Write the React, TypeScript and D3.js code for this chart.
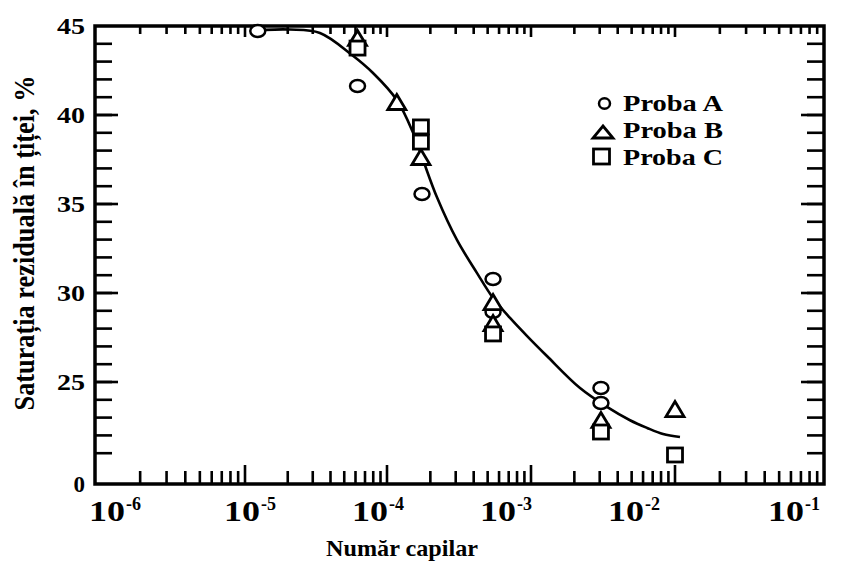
import React from 'react';
import * as d3 from 'd3';

// capillary number decades (bottom axis)
const decades = [1e-6, 1e-5, 1e-4, 1e-3, 1e-2, 1e-1];
const decadeExp = ['-6', '-5', '-4', '-3', '-2', '-1'];
const yMajor = [25, 30, 35, 40, 45];
const yMinor = d3.range(21, 45);
const yLabels = ['25', '30', '35', '40', '45'];

// samples: [capillary number, residual oil saturation %]
const probaA = [
  [1.23e-5, 44.72], [6.2e-5, 41.63], [1.75e-4, 35.56], [5.45e-4, 30.79],
  [5.45e-4, 28.93], [3.06e-3, 24.66], [3.06e-3, 23.82],
];
const probaB = [
  [6.2e-5, 44.33], [1.17e-4, 40.73], [1.72e-4, 37.64], [5.45e-4, 29.49],
  [5.45e-4, 28.31], [3.06e-3, 22.87], [1e-2, 23.48],
];
const probaC = [
  [6.2e-5, 43.76], [1.72e-4, 39.33], [1.72e-4, 38.48], [5.45e-4, 27.7],
  [3.06e-3, 22.19], [1e-2, 20.9],
];
// fitted trend line
const trend = [
  [1.38e-5, 44.78], [2.07e-5, 44.8], [3.37e-5, 44.61], [5.67e-5, 43.37],
  [7.97e-5, 42.36], [1.17e-4, 40.84], [1.52e-4, 38.99], [1.78e-4, 37.47],
  [2.22e-4, 35.39], [3.06e-4, 32.98], [4.22e-4, 31.12], [5.45e-4, 29.72],
  [7.15e-4, 28.6], [9.4e-4, 27.58], [1.29e-3, 26.46], [2.19e-3, 24.66],
  [3.37e-3, 23.6], [4.87e-3, 22.85], [6.4e-3, 22.42], [8.26e-3, 22.08],
  [1.08e-2, 21.91],
];
const legendNames = ['Proba A', 'Proba B', 'Proba C'];

const W = 860;
const H = 565;
const left = 95, right = 824, top = 26, bottom = 484;
const FONT = '"Liberation Serif", "Times New Roman", serif';

// the scanned axis is not perfectly even, so the decade ticks are pinned one by one
const x = d3.scaleLog().domain(decades).range([95, 245, 387, 531, 675, 824]);
// tick labels in the scan sit a bit left of their ticks
const xLab = d3.scaleLog().domain(decades).range([113, 248, 376, 504, 632, 792]);
const y = d3.scaleLinear().domain([19.27, 45]).range([bottom, top]);

const minorX: number[] = [];
decades.slice(0, -1).forEach(d => {
  for (let k = 2; k <= 9; k++) minorX.push(d * k);
});

const Circle = ({ cx, cy, rx = 7.5, ry = 6 }) => (
  <ellipse cx={cx} cy={cy} rx={rx} ry={ry} fill="white" stroke="black" strokeWidth={2.5} />
);
const Tri = ({ cx, cy, w = 18, h = 15 }) => (
  <path
    d={`M${cx},${cy - h / 2}L${cx + w / 2},${cy + h / 2}L${cx - w / 2},${cy + h / 2}Z`}
    fill="white" stroke="black" strokeWidth={2.8} strokeLinejoin="miter"
  />
);
const Sq = ({ cx, cy, w = 15, h = 14 }) => (
  <rect x={cx - w / 2} y={cy - h / 2} width={w} height={h} fill="white" stroke="black" strokeWidth={2.8} />
);

export default function App() {
  const line = d3.line<number[]>()
    .x(d => x(d[0]))
    .y(d => y(d[1]))
    .curve(d3.curveCatmullRom);

  return (
    <svg width={W} height={H} style={{ position: 'absolute', left: 0, top: 0, background: 'white' }}
      fontFamily={FONT} fontWeight="bold">
      <rect width={W} height={H} fill="white" />

      {/* ticks */}
      <g stroke="black" strokeWidth={2.6}>
        {minorX.map((v, i) => (
          <g key={'mx' + i}>
            <line x1={x(v)} x2={x(v)} y1={bottom} y2={bottom - 13} />
            <line x1={x(v)} x2={x(v)} y1={top} y2={top + 8} />
          </g>
        ))}
        {decades.slice(1, -1).map((v, i) => (
          <g key={'Mx' + i}>
            <line x1={x(v)} x2={x(v)} y1={bottom} y2={bottom - 19} />
            <line x1={x(v)} x2={x(v)} y1={top} y2={top + 11} />
          </g>
        ))}
        {yMinor.map(v => (
          <g key={'my' + v}>
            <line x1={left} x2={left + 17} y1={y(v)} y2={y(v)} />
            <line x1={right} x2={right - 17} y1={y(v)} y2={y(v)} />
          </g>
        ))}
        {yMajor.slice(0, -1).map(v => (
          <g key={'My' + v}>
            <line x1={left} x2={left + 23} y1={y(v)} y2={y(v)} />
            <line x1={right} x2={right - 23} y1={y(v)} y2={y(v)} />
          </g>
        ))}
      </g>

      {/* frame */}
      <rect x={left} y={top} width={right - left} height={bottom - top} fill="none" stroke="black" strokeWidth={3.5} />

      {/* trend */}
      <path d={line(trend) || ''} fill="none" stroke="black" strokeWidth={2.6} />

      {/* points */}
      {probaA.map((d, i) => <Circle key={'a' + i} cx={x(d[0])} cy={y(d[1])} />)}
      {probaB.map((d, i) => <Tri key={'b' + i} cx={x(d[0])} cy={y(d[1])} />)}
      {probaC.map((d, i) => <Sq key={'c' + i} cx={x(d[0])} cy={y(d[1])} />)}

      {/* y tick labels */}
      {yMajor.map((v, i) => (
        <text key={'yl' + v} x={85} y={y(v) + 8} textAnchor="end" fontSize={23}
          textLength={28} lengthAdjust="spacingAndGlyphs">{yLabels[i]}</text>
      ))}
      <text x={85} y={bottom + 8} textAnchor="end" fontSize={23}>0</text>

      {/* x tick labels */}
      {decades.map((v, i) => (
        <g key={'xl' + i}>
          <text x={xLab(v) - 24} y={521} fontSize={29} textLength={36}
            lengthAdjust="spacingAndGlyphs">10</text>
          <text x={xLab(v) + 13} y={510} fontSize={18}>{decadeExp[i]}</text>
        </g>
      ))}

      {/* axis titles */}
      <text x={402} y={556} textAnchor="middle" fontSize={23} textLength={152}
        lengthAdjust="spacingAndGlyphs">Număr capilar</text>
      <g transform="translate(34,243) scale(1.15,1) rotate(-90)">
        <text x={0} y={0} textAnchor="middle" fontSize={26} textLength={335}
          lengthAdjust="spacingAndGlyphs">Saturația reziduală în țiței, %</text>
      </g>

      {/* legend */}
      <Circle cx={604.5} cy={103.5} rx={5.5} ry={5.2} />
      <Tri cx={603} cy={132} w={20} h={12} />
      <Sq cx={601.5} cy={156.5} w={16} h={15} />
      {legendNames.map((n, i) => (
        <text key={n} x={623} y={111 + i * 27} fontSize={23} textLength={100}
          lengthAdjust="spacingAndGlyphs">{n}</text>
      ))}
    </svg>
  );
}
